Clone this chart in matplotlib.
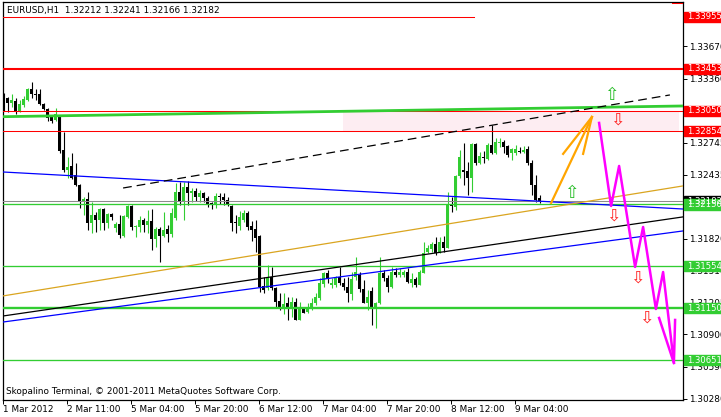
import matplotlib.pyplot as plt
import numpy as np

# EURUSD H1 candles (bar index 0 = first visible bar)
opens = [
    1.33203, 1.33174, 1.33126, 1.33145, 1.33049, 1.33107, 1.33155, 1.33261, 1.33213, 1.33213,
    1.33117, 1.33068, 1.32991, 1.32963, 1.32991, 1.32674, 1.32482, 1.32520, 1.32434, 1.32337,
    1.32183, 1.32203, 1.31972, 1.32049, 1.32001, 1.32106, 1.31972, 1.32058, 1.31924, 1.31962,
    1.31847, 1.32030, 1.32135, 1.31933, 1.31933, 1.32001, 1.31953, 1.31991, 1.31818, 1.31914,
    1.31847, 1.31914, 1.31866, 1.32020, 1.32270, 1.32183, 1.32318, 1.32260, 1.32280, 1.32222,
    1.32260, 1.32212, 1.32164, 1.32155, 1.32232, 1.32222, 1.32193, 1.32135, 1.31981, 1.31943,
    1.32001, 1.32068, 1.31943, 1.31914, 1.31847, 1.31366, 1.31346, 1.31452, 1.31346, 1.31221,
    1.31144, 1.31202, 1.31144, 1.31212, 1.31039, 1.31154, 1.31116, 1.31154, 1.31202, 1.31250,
    1.31385, 1.31491, 1.31375, 1.31375, 1.31452, 1.31395, 1.31356, 1.31289, 1.31452, 1.31472,
    1.31337, 1.31202, 1.31318, 1.31164, 1.31202, 1.31491, 1.31443, 1.31356, 1.31500, 1.31472,
    1.31472, 1.31500, 1.31395, 1.31433, 1.31375, 1.31491, 1.31693, 1.31722, 1.31770, 1.31693,
    1.31789, 1.31731, 1.32145, 1.32126, 1.32424, 1.32482, 1.32472, 1.32405, 1.32732, 1.32549,
    1.32607, 1.32587, 1.32722, 1.32645, 1.32741, 1.32751, 1.32712, 1.32645, 1.32645, 1.32664,
    1.32655, 1.32684, 1.32549, 1.32337, 1.32212,
]
highs = [
    1.33222, 1.33184, 1.33213, 1.33174, 1.33155, 1.33193, 1.33270, 1.33328, 1.33261, 1.33261,
    1.33126, 1.33078, 1.33001, 1.33078, 1.33001, 1.32847, 1.32607, 1.32645, 1.32549, 1.32347,
    1.32222, 1.32270, 1.32174, 1.32078, 1.32116, 1.32116, 1.32068, 1.32068, 1.31981, 1.32049,
    1.32049, 1.32145, 1.32145, 1.31953, 1.32039, 1.32020, 1.32097, 1.32106, 1.31933, 1.31933,
    1.32078, 1.31953, 1.32116, 1.32357, 1.32366, 1.32366, 1.32376, 1.32308, 1.32308, 1.32289,
    1.32270, 1.32232, 1.32174, 1.32260, 1.32260, 1.32260, 1.32222, 1.32145, 1.32049, 1.32087,
    1.32097, 1.32087, 1.31991, 1.32001, 1.31856, 1.31452, 1.31568, 1.31549, 1.31356, 1.31298,
    1.31298, 1.31260, 1.31260, 1.31250, 1.31212, 1.31164, 1.31202, 1.31250, 1.31298, 1.31443,
    1.31500, 1.31520, 1.31443, 1.31462, 1.31549, 1.31443, 1.31452, 1.31500, 1.31645, 1.31500,
    1.31423, 1.31327, 1.31356, 1.31212, 1.31645, 1.31520, 1.31472, 1.31549, 1.31539, 1.31539,
    1.31520, 1.31539, 1.31491, 1.31452, 1.31520, 1.31789, 1.31760, 1.31789, 1.31837, 1.31837,
    1.31847, 1.32270, 1.32222, 1.32434, 1.32674, 1.32741, 1.32559, 1.32741, 1.32741, 1.32655,
    1.32664, 1.32741, 1.32915, 1.32789, 1.32789, 1.32770, 1.32722, 1.32693, 1.32722, 1.32703,
    1.32712, 1.32712, 1.32578, 1.32434, 1.32241,
]
lows = [
    1.33049, 1.33040, 1.33088, 1.33020, 1.33040, 1.33088, 1.33145, 1.33174, 1.33155, 1.33107,
    1.33059, 1.32953, 1.32934, 1.32953, 1.32645, 1.32462, 1.32405, 1.32395, 1.32328, 1.32116,
    1.32049, 1.31904, 1.31876, 1.31885, 1.31904, 1.31904, 1.31924, 1.32001, 1.31885, 1.31827,
    1.31837, 1.32020, 1.31904, 1.31837, 1.31885, 1.31885, 1.31876, 1.31712, 1.31741, 1.31597,
    1.31837, 1.31789, 1.31837, 1.32001, 1.32145, 1.32001, 1.32145, 1.32174, 1.32183, 1.32174,
    1.32174, 1.32126, 1.32106, 1.32116, 1.32155, 1.32145, 1.32135, 1.31895, 1.31876, 1.31904,
    1.31981, 1.31904, 1.31799, 1.31693, 1.31308, 1.31298, 1.31327, 1.31327, 1.31164, 1.31135,
    1.31096, 1.31039, 1.31067, 1.31039, 1.31039, 1.31106, 1.31106, 1.31135, 1.31183, 1.31231,
    1.31356, 1.31395, 1.31346, 1.31356, 1.31375, 1.31327, 1.31212, 1.31231, 1.31423, 1.31308,
    1.31202, 1.31135, 1.30990, 1.30962, 1.31193, 1.31414, 1.31308, 1.31346, 1.31452, 1.31452,
    1.31452, 1.31395, 1.31356, 1.31356, 1.31375, 1.31491, 1.31683, 1.31693, 1.31664, 1.31683,
    1.31693, 1.31731, 1.32078, 1.32097, 1.32405, 1.32337, 1.32241, 1.32270, 1.32530, 1.32539,
    1.32549, 1.32578, 1.32636, 1.32636, 1.32703, 1.32645, 1.32607, 1.32578, 1.32626, 1.32645,
    1.32645, 1.32530, 1.32241, 1.32174, 1.32166,
]
closes = [
    1.33126, 1.33126, 1.33155, 1.33049, 1.33117, 1.33165, 1.33261, 1.33213, 1.33203, 1.33117,
    1.33068, 1.32982, 1.32953, 1.33020, 1.32664, 1.32482, 1.32511, 1.32405, 1.32337, 1.32183,
    1.32203, 1.31972, 1.32049, 1.32001, 1.32106, 1.31972, 1.32058, 1.32030, 1.31962, 1.31856,
    1.32039, 1.32135, 1.31933, 1.31943, 1.32001, 1.31953, 1.31991, 1.31818, 1.31914, 1.31847,
    1.31904, 1.31866, 1.32068, 1.32270, 1.32183, 1.32318, 1.32260, 1.32280, 1.32222, 1.32260,
    1.32212, 1.32155, 1.32145, 1.32232, 1.32222, 1.32193, 1.32140, 1.31972, 1.31972, 1.32030,
    1.32068, 1.31933, 1.31904, 1.31827, 1.31356, 1.31327, 1.31452, 1.31346, 1.31212, 1.31164,
    1.31193, 1.31144, 1.31212, 1.31039, 1.31164, 1.31110, 1.31164, 1.31202, 1.31260, 1.31395,
    1.31491, 1.31433, 1.31395, 1.31452, 1.31395, 1.31356, 1.31298, 1.31433, 1.31500, 1.31337,
    1.31202, 1.31260, 1.31164, 1.31202, 1.31491, 1.31443, 1.31356, 1.31500, 1.31472, 1.31500,
    1.31500, 1.31404, 1.31433, 1.31375, 1.31500, 1.31683, 1.31731, 1.31770, 1.31683, 1.31789,
    1.31731, 1.32145, 1.32135, 1.32424, 1.32607, 1.32462, 1.32405, 1.32732, 1.32549, 1.32616,
    1.32597, 1.32722, 1.32645, 1.32751, 1.32751, 1.32703, 1.32626, 1.32684, 1.32684, 1.32655,
    1.32674, 1.32549, 1.32337, 1.32193, 1.32182,
]

time_labels = ["1 Mar 2012", "2 Mar 11:00", "5 Mar 04:00", "5 Mar 20:00", "6 Mar 12:00",
               "7 Mar 04:00", "7 Mar 20:00", "8 Mar 12:00", "9 Mar 04:00"]
time_label_bars = [0, 16, 32, 48, 64, 80, 96, 112, 128]

price_ticks = [1.33670, 1.33360, 1.33050, 1.32745, 1.32435, 1.32125,
               1.31820, 1.31510, 1.31205, 1.30900, 1.30590, 1.30280]

# horizontal levels drawn on the chart
red_levels = [1.33453, 1.33050, 1.32854]
red_level_widths = [2, 1, 1]
top_red_level = 1.33955
green_levels = [1.32150, 1.31554, 1.31150, 1.30651]
green_level_widths = [1, 1, 2, 1]
bid_price = 1.32182
zone_low, zone_high = 1.32854, 1.33050

# trend lines: (x0, x1), (y0, y1) in bar index / price
green_trend = ([-0.125, 169.875], [1.32994, 1.33097])
blue_upper = ([-0.125, 169.875], [1.32462, 1.32106])
blue_lower = ([-0.125, 169.875], [1.31019, 1.31895])
black_line = ([-0.125, 169.875], [1.31077, 1.32030])
orange_line = ([-0.125, 169.875], [1.31270, 1.32328])
black_dashed = ([29.9, 166.6], [1.32308, 1.33203])

# forecast drawings
orange_arrow_x = [136.9, 147.1]
orange_arrow_y = [1.32164, 1.32991]
orange_wings_x = [139.9, 144.9]
orange_wings_y = [1.32636, 1.32636]
zig_x = [148.9, 151.9, 153.9, 157.9, 159.9, 163.1, 164.9, 167.6, 167.9]
zig_y = [1.32934, 1.32135, 1.32520, 1.31549, 1.31933, 1.31144, 1.31500, 1.30625, 1.31039]
zig_wing_x = [163.9, 167.6]
zig_wing_y = [1.31058, 1.30625]
up_arrows_x = [151.9, 141.9]
up_arrows_y = [1.33203, 1.32260]
down_arrows_x = [153.4, 152.4, 158.4, 160.6]
down_arrows_y = [1.32963, 1.32039, 1.31443, 1.31058]

GREEN = "#32CD32"
RED = "#FF0000"
FONT = 6.4

fig = plt.figure(figsize=(7.21, 4.17), dpi=100, facecolor="white")
ax = fig.add_axes([3 / 721, 17 / 417, 680 / 721, 398 / 417])
ax.set_xlim(-0.125, 169.875)
ax.set_ylim(1.30269, 1.34097)

# candles
o, h, l, c = map(np.array, (opens, highs, lows, closes))
x = np.arange(len(o))
colors = np.where(c >= o, GREEN, "black")
ax.vlines(x, l, h, colors=colors, lw=0.8, zorder=3)
ax.bar(x, np.maximum(np.abs(c - o), 0.00007), bottom=np.minimum(o, c),
       width=0.62, color=colors, lw=0, zorder=3)

# zone and levels
ax.fill_between([84.9, 168.9], zone_low, zone_high, color="#FDEDF2", lw=0, zorder=1)
for lvl, w in zip(red_levels, red_level_widths):
    ax.axhline(lvl, color=RED, lw=w * 0.75, zorder=5)
ax.plot([-0.125, 117.6], [top_red_level, top_red_level], color=RED, lw=0.75, zorder=5)
ax.plot([167.1, 169.875], [1.34088, 1.34088], color=RED, lw=0.75, zorder=5)
for lvl, w in zip(green_levels, green_level_widths):
    ax.axhline(lvl, color=GREEN, lw=w * 0.75 + 0.2, zorder=5)
ax.axhline(bid_price, color="#8C8C8C", lw=0.75, zorder=4)

ax.plot(*green_trend, color=GREEN, lw=2.0, zorder=5)
ax.plot(*blue_upper, color="#0000FF", lw=0.9, zorder=5)
ax.plot(*blue_lower, color="#0000FF", lw=0.9, zorder=5)
ax.plot(*black_line, color="black", lw=0.9, zorder=5)
ax.plot(*orange_line, color="#DAA520", lw=0.9, zorder=5)
ax.plot(*black_dashed, color="black", lw=0.9, ls=(0, (7, 4)), zorder=5)

ax.plot(orange_arrow_x, orange_arrow_y, color="#FFA500", lw=1.6, zorder=6)
for wx, wy in zip(orange_wings_x, orange_wings_y):
    ax.plot([wx, orange_arrow_x[-1]], [wy, orange_arrow_y[-1]], color="#FFA500", lw=1.6, zorder=6)
ax.plot(zig_x, zig_y, color="#FF00FF", lw=1.8, zorder=6)
ax.plot(zig_wing_x, zig_wing_y, color="#FF00FF", lw=1.8, zorder=6)

for ux, uy in zip(up_arrows_x, up_arrows_y):
    ax.text(ux, uy, "\u21e7", color="#22BB22", fontsize=12.5, ha="center", va="center", zorder=7)
for dx, dy in zip(down_arrows_x, down_arrows_y):
    ax.text(dx, dy, "\u21e9", color="#FF2020", fontsize=12.5, ha="center", va="center", zorder=7)

# axes / ticks
for s in ax.spines.values():
    s.set_color("black")
    s.set_linewidth(0.9)
ax.yaxis.tick_right()
ax.set_yticks(price_ticks)
ax.set_yticklabels([f"{p:.5f}" for p in price_ticks])
ax.tick_params(axis="y", length=3, width=0.7, pad=1.5, labelsize=FONT, colors="black")
ax.set_xticks([b - 0.125 for b in time_label_bars])
ax.set_xticklabels(time_labels)
ax.tick_params(axis="x", length=3, width=0.7, pad=0.8, labelsize=FONT)
for lab in ax.get_xticklabels():
    lab.set_ha("left")

# price labels on the right axis
ytrans = ax.get_yaxis_transform()
boxes = ([(bid_price, "black")] + [(p, RED) for p in [top_red_level] + red_levels]
         + [(p, GREEN) for p in green_levels])
for p, col in boxes:
    ax.add_patch(plt.Rectangle((1.0015, p - 0.00049), 0.06, 0.00098, transform=ytrans,
                               color=col, clip_on=False, zorder=8))
    ax.text(1.0066, p, f"{p:.5f}", transform=ytrans, color="white", fontsize=6.1,
            ha="left", va="center", clip_on=False, zorder=9)

fig.text(7 / 721, 1 - 10 / 417, "EURUSD,H1  1.32212 1.32241 1.32166 1.32182",
         fontsize=FONT, ha="left", va="center")
fig.text(6 / 721, 1 - 391 / 417, "Skopalino Terminal, \u00a9 2001-2011 MetaQuotes Software Corp.",
         fontsize=FONT, ha="left", va="center")

fig.savefig("out.png", dpi=100, facecolor="white")
